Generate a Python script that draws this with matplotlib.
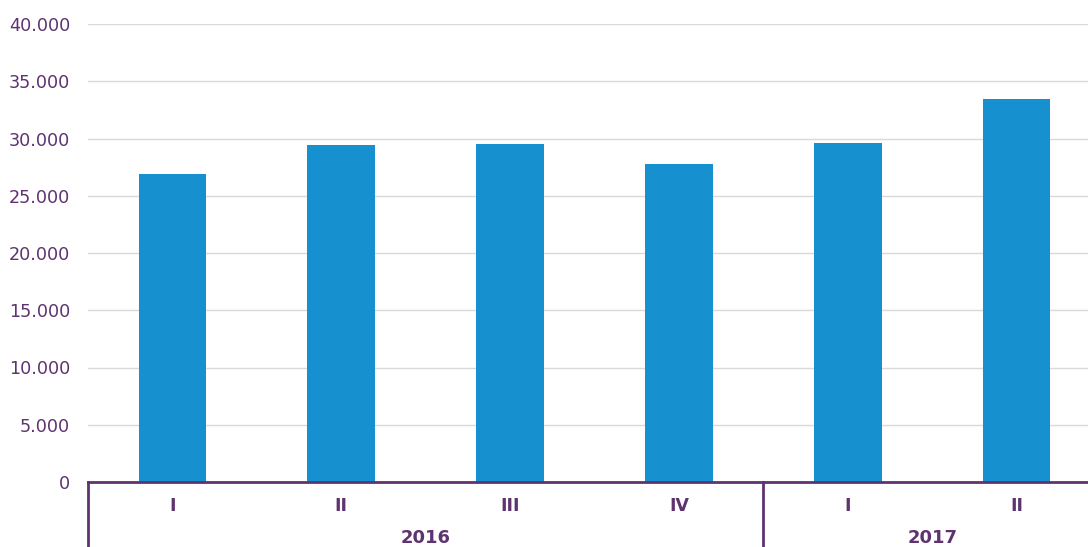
import matplotlib.pyplot as plt
from matplotlib.ticker import FuncFormatter
import matplotlib.transforms as mtransforms

#
# Data: quarterly values, grouped by year
#
quarters = ['I', 'II', 'III', 'IV', 'I', 'II']
values = [26900, 29400, 29550, 27750, 29600, 33450]
years = ['2016', '2017']
quarters_per_year = [4, 2]

bar_color = '#1790D0'
text_color = '#5E3370'
grid_color = '#D9D9D9'

fig = plt.figure(figsize=(10.88, 5.47), dpi=100)
ax = fig.add_axes([88 / 1088, 65 / 547, 1013 / 1088, 458 / 547])

x = list(range(len(values)))
ax.bar(x, values, width=0.4, color=bar_color, zorder=3)

ax.set_xlim(-0.5, len(values) - 0.5)
ax.set_ylim(0, 40000)
ax.set_yticks(range(0, 40001, 5000))
ax.yaxis.set_major_formatter(FuncFormatter(lambda v, p: f'{int(v):,}'.replace(',', '.')))
ax.tick_params(axis='y', length=0, pad=13, labelsize=12.7, labelcolor=text_color)
ax.set_xticks([])
ax.grid(axis='y', color=grid_color, linewidth=1, zorder=0)
for side in ['left', 'right', 'top']:
    ax.spines[side].set_visible(False)
ax.spines['bottom'].set_color(text_color)
ax.spines['bottom'].set_linewidth(2)
ax.spines['bottom'].set_zorder(4)

#
# Two-level category axis
#
trans = mtransforms.blended_transform_factory(ax.transData, ax.transAxes)
for i, q in enumerate(quarters):
    ax.text(i, -0.052, q, transform=trans, ha='center', va='center',
            fontsize=12.5, fontweight='bold', color=text_color)

start = -0.5
bounds = [start]
for yr, n in zip(years, quarters_per_year):
    end = start + n
    ax.text((start + end) / 2, -0.122, yr, transform=trans, ha='center', va='center',
            fontsize=13, fontweight='bold', color=text_color)
    bounds.append(end)
    start = end

for b in bounds:
    ax.plot([b, b], [0, -0.2], transform=trans, color=text_color, linewidth=2, clip_on=False)

fig.savefig('out.png', dpi=100)
